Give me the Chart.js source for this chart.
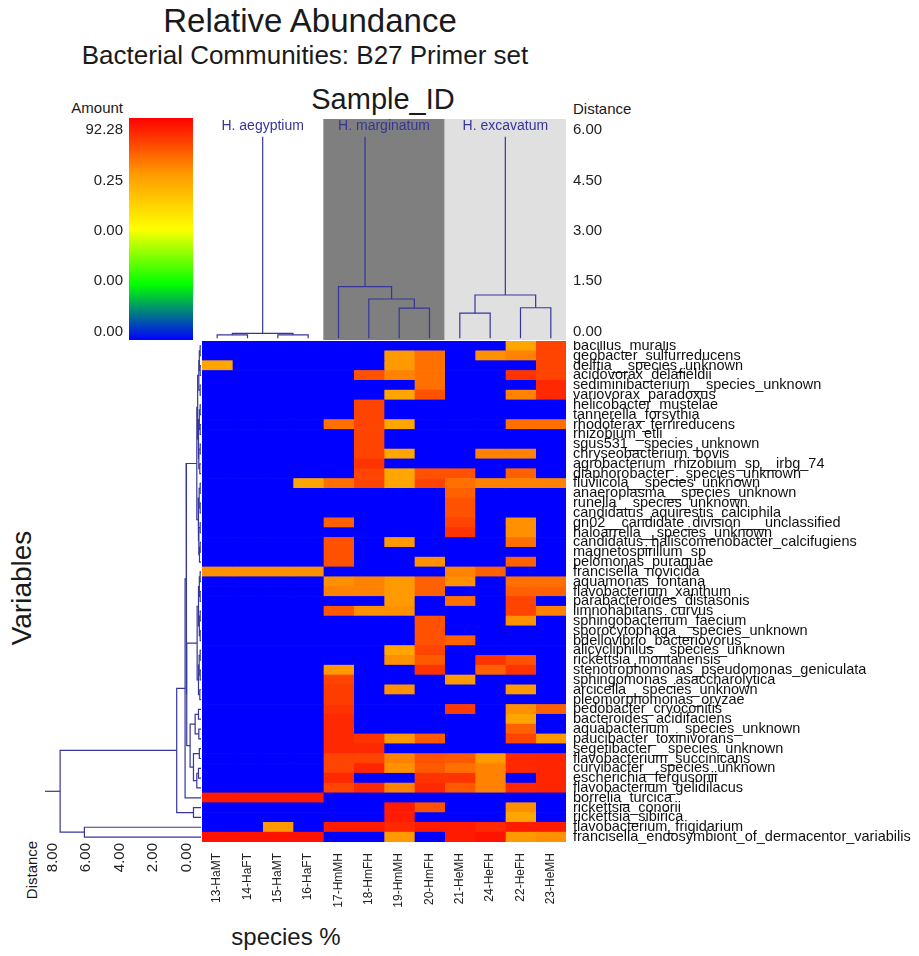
<!DOCTYPE html>
<html>
<head>
<meta charset="utf-8">
<title>Relative Abundance</title>
<script src="https://cdn.jsdelivr.net/npm/chart.js@4.4.1/dist/chart.umd.min.js"></script>
<style>
  body { margin: 0; background: #fff; }
  #page { position: relative; width: 919px; height: 956px; overflow: hidden; font-family: 'Liberation Sans', Arial, sans-serif; color: #1a1a1a; }
  canvas { position: absolute; }
  .txt { position: absolute; white-space: nowrap; line-height: 1; }
</style>
</head>
<body>
<div id="page">
  <div class="txt" style="left:310px; top:4px; font-size:33px; transform:translateX(-50%)">Relative Abundance</div>
  <div class="txt" style="left:305px; top:42px; font-size:26px; transform:translateX(-50%)">Bacterial Communities: B27 Primer set</div>
  <div class="txt" style="left:383px; top:85px; font-size:29px; transform:translateX(-50%)">Sample_ID</div>
  <div class="txt" style="left:123px; top:100px; font-size:15px; transform:translateX(-100%)">Amount</div>
  <div class="txt" style="left:573px; top:101px; font-size:15px">Distance</div>
  <div class="txt" style="left:22px; top:588px; font-size:28px; transform:translate(-50%,-50%) rotate(-90deg)">Variables</div>
  <div class="txt" style="left:31px; top:870px; font-size:15px; transform:translate(-50%,-50%) rotate(-90deg)">Distance</div>
  <div class="txt" style="left:286px; top:925px; font-size:24px; transform:translateX(-50%)">species %</div>

  <canvas id="legend" width="133" height="222" style="left:60px; top:118px"></canvas>
  <canvas id="colTree" width="420" height="221" style="left:202px; top:119px"></canvas>
  <canvas id="rowTree" width="161" height="561" style="left:40px; top:341px"></canvas>
  <canvas id="heat" width="717" height="615" style="left:202px; top:341px"></canvas>
</div>
<script>
// samples (columns), in dendrogram order
const samples = ['13-HaMT', '14-HaFT', '15-HaMT', '16-HaFT', '17-HmMH', '18-HmFH',
                 '19-HmMH', '20-HmFH', '21-HeMH', '24-HeFH', '22-HeFH', '23-HeMH'];

// species (rows), top to bottom
const species = [
  'bacillus_muralis', 'geobacter_sulfurreducens', 'delftia__species_unknown', 'acidovorax_delafieldii',
  'sediminibacterium__species_unknown', 'variovorax_paradoxus', 'helicobacter_mustelae', 'tannerella_forsythia',
  'rhodoferax_ferrireducens', 'rhizobium_etli', 'sgus531__species_unknown', 'chryseobacterium_bovis',
  'agrobacterium_rhizobium_sp__irbg_74', 'diaphorobacter__species_unknown', 'fluviicola__species_unknown',
  'anaeroplasma__species_unknown', 'runella__species_unknown', 'candidatus_aquirestis_calciphila',
  'gn02__candidate_division___unclassified', 'haloarrella__species_unknown',
  'candidatus_haliscomenobacter_calcifugiens', 'magnetospirillum_sp', 'pelomonas_puraquae',
  'francisella_novicida', 'aquamonas_fontana', 'flavobacterium_xanthum', 'parabacteroides_distasonis',
  'limnohabitans_curvus', 'sphingobacterium_faecium', 'sporocytophaga__species_unknown',
  'bdellovibrio_bacteriovorus', 'alicycliphilus__species_unknown', 'rickettsia_montanensis',
  'stenotrophomonas_pseudomonas_geniculata', 'sphingomonas_asaccharolytica', 'arcicella__species_unknown',
  'pleomorphomonas_oryzae', 'pedobacter_cryoconitis', 'bacteroides_acidifaciens',
  'aquabacterium__species_unknown', 'paucibacter_toxinivorans', 'segetibacter__species_unknown',
  'flavobacterium_succinicans', 'curvibacter__species_unknown', 'escherichia_fergusonii',
  'flavobacterium_gelidilacus', 'borrelia_turcica', 'rickettsia_conorii', 'rickettsia_sibirica',
  'flavobacterium_frigidarium', 'francisella_endosymbiont_of_dermacentor_variabilis'
];

// abundance (%) per sample, one value per species row (estimated from the colours)
const c13HaMT = [0,0,0.22,0,0,0,0,0,0,0, 0,0,0,0,0,0,0,0,0,0, 0,0,0,0.35,0,0,0,0,0,0, 0,0,0,0,0,0,0,0,0,0, 0,0,0,0,0,0,33,0,0,0, 45];
const c14HaFT = [0,0,0,0,0,0,0,0,0,0, 0,0,0,0,0,0,0,0,0,0, 0,0,0,0.35,0,0,0,0,0,0, 0,0,0,0,0,0,0,0,0,0, 0,0,0,0,0,0,33,0,0,0, 45];
const c15HaMT = [0,0,0,0,0,0,0,0,0,0, 0,0,0,0,0,0,0,0,0,0, 0,0,0,0.35,0,0,0,0,0,0, 0,0,0,0,0,0,0,0,0,0, 0,0,0,0,0,0,33,0,0,0.25, 45];
const c16HaFT = [0,0,0,0,0,0,0,0,0,0, 0,0,0,0,0.22,0,0,0,0,0, 0,0,0,0.35,0,0,0,0,0,0, 0,0,0,0,0,0,0,0,0,0, 0,0,0,0,0,0,33,0,0,0, 45];
const c17HmMH = [0,0,0,0,0,0,0,0,1.2,0, 0,0,0,0,1.2,0,0,0,2.2,0, 4,4,4,0,0.35,0.6,0,3,0,0, 0,0,0,0.25,7,9,9,13,20,20, 20,20,7,7,20,7,0,0,0,33, 0];
const c18HmFH = [0,0,0,4,0,0,7,7,7,7, 7,7,13,7,7,0,0,0,0,0, 0,0,0,0,0.6,0.6,0,0.35,0,0, 0,0,0,0,0,0,0,0,0,0, 13,20,7,22,0,20,0,0,0,33, 0];
const c19HmMH = [0,0.25,0.25,0.6,0,0.22,0,0,0.22,0, 0,0.22,0,0.22,0.22,0,0,0,0,0, 0.25,0,0,0,0.25,0.25,0.25,0.35,0,0, 0,0.22,0.35,0,0,0.35,0,0,0,0, 0.25,0,0.6,0.35,0,0.6,0,33,33,20, 0.25];
const c20HmFH = [0,1.2,1.2,1.2,1.2,4,0,0,0,0, 0,0,0,4,7,0,0,0,0,0, 0,0,0.35,0,2.2,2.2,0,0,4,4, 4,7,3,13,0,0,0,0,0,0, 3,0,4,3,13,20,0,4,0,33, 0];
const c21HeMH = [0,0,0,0,0,0,0,0,0,0, 0,0,0,4,1.2,2.2,4,4,7,13, 0,0,0,0.6,0.35,0,1.2,0,0,0, 2.2,0,0,0,0.25,0,0,9,0,0, 0,0,3,1.2,13,3,0,0,0,33, 33];
const c24HeFH = [0,0.35,0,0,0,0,0,0,0,0, 0,0.6,0,0,0.6,0,0,0,0,0, 0,0,0,2.2,0,0,0,0,0,0, 0,0,13,2.2,0,0,0,0,0,0, 0,0,0.25,0.6,0.6,0.6,0,0,0,20, 45];
const c22HeFH = [0.22,0.6,0,13,0,0.6,0,0,1.2,0, 0,0.6,0,2.2,0.6,0,0,0,0.35,0.35, 1.2,0,2.2,0,1.2,2.2,7,7,0.35,0, 0,0,4,13,0,0.25,0,0.35,0.22,2.2, 7,0,20,20,0,20,0,0.35,0.22,33, 0.25];
const c23HeMH = [7,7,7,7,20,20,0,0,1.2,0, 0,0,0,0,0.6,0,0,0,0,0, 0,0,0,0,1.2,2.2,0,0.6,0,0, 0,0,0,0,0,0,0,2.2,0,0, 0.25,0,22,22,22,22,0,0,0,33, 0.35];
const abundance = [c13HaMT, c14HaFT, c15HaMT, c16HaFT, c17HmMH, c18HmFH, c19HmMH, c20HmFH, c21HeMH, c24HeFH, c22HeFH, c23HeMH];

// colour key
const legendLabels = ['0.00', '0.00', '0.00', '0.25', '92.28'];
const amountMid = 0.25, amountMax = 92.28;

// column clustering: [childA, childB, distance]; leaves 0..11, new nodes from 12
const colLinks = [[0, 1, -0.1], [2, 3, -0.1], [12, 13, -0.05],
                  [6, 7, 0.70], [5, 15, 0.97], [4, 16, 1.34],
                  [8, 9, 0.55], [10, 11, 0.71], [18, 19, 1.09]];
const colGroupRoots = [14, 17, 20];
const colRootTop = 5.8;
const groupNames = ['H. aegyptium', 'H. marginatum', 'H. excavatum'];
const groupCols = [[0, 3], [4, 7], [8, 11]];
const colDistTicks = [0, 1.5, 3, 4.5, 6];

// row clustering: leaves 0..50, new nodes from 51
const rowLinks = [
  [0, 1, -0.8], [2, 3, -0.8], [51, 52, -0.75], [4, 5, -0.8], [53, 54, -0.72],
  [6, 7, -0.8], [8, 9, -0.8], [56, 57, -0.75], [10, 11, -0.8], [12, 13, -0.78],
  [59, 60, -0.72], [58, 61, -0.68], [55, 62, -0.65], [14, 15, -0.8], [16, 17, -0.8],
  [64, 65, -0.74], [18, 19, -0.8], [20, 21, -0.8], [68, 22, -0.76], [67, 69, -0.72],
  [66, 70, -0.68], [63, 71, -0.6], [23, 24, -0.8], [25, 26, -0.8], [73, 74, -0.75],
  [27, 28, -0.8], [29, 30, -0.8], [76, 77, -0.75], [75, 78, -0.7], [31, 32, -0.8],
  [33, 34, -0.8], [80, 81, -0.74], [35, 36, -0.78], [82, 83, -0.7], [79, 84, -0.62],
  [37, 38, -0.7], [39, 40, -0.72], [86, 87, -0.5], [41, 42, -0.75], [43, 44, -0.7],
  [90, 45, -0.6], [89, 91, -0.4], [88, 92, -0.2], [85, 93, 0.0], [72, 94, 0.04],
  [95, 46, 0.1], [47, 48, -0.4], [96, 97, 0.6], [49, 50, 6.11], [98, 99, 7.56]
];
const rowRoot = 100;
const rowRootEnd = 8.46;
const rowDistTicks = [0, 2, 4, 6, 8];

const FONT = "'Liberation Sans', Arial, sans-serif";
const NAVY = '#36369a';
const stops = [[0, [0, 0, 255]], [0.25, [0, 255, 0]], [0.5, [255, 255, 0]], [0.75, [255, 153, 0]], [1, [255, 0, 0]]];

function amountToT(a) {
  if (a <= 0) return 0;
  if (a < amountMid) return 0.5 + a;
  return 0.75 + 0.25 * Math.log(a / amountMid) / Math.log(amountMax / amountMid);
}
function colorAt(t) {
  for (let i = 1; i < stops.length; i++) {
    if (t <= stops[i][0]) {
      const [t0, c0] = stops[i - 1], [t1, c1] = stops[i];
      const f = (t - t0) / (t1 - t0);
      const c = c0.map((v, k) => Math.round(v + (c1[k] - v) * f));
      return `rgb(${c[0]},${c[1]},${c[2]})`;
    }
  }
  return 'rgb(255,0,0)';
}
const amountColor = a => colorAt(amountToT(a));

function treeSegments(n, links, leafLevel) {
  const pos = [], lev = [];
  for (let i = 0; i < n; i++) { pos.push(i + 0.5); lev.push(leafLevel); }
  const segs = links.map(([a, b, h]) => {
    const s = [[pos[a], lev[a]], [pos[a], h], [pos[b], h], [pos[b], lev[b]]];
    pos.push((pos[a] + pos[b]) / 2);
    lev.push(h);
    return s;
  });
  return { segs, pos, lev };
}
function lineSets(segs, vertical) {
  return segs.map(s => ({
    data: s.map(([p, l]) => vertical ? { x: p, y: l } : { x: l, y: p }),
    showLine: true, borderColor: NAVY, borderWidth: 1.2, pointRadius: 0, clip: false
  }));
}
const noTicks = { display: false, drawTicks: false };
const common = { responsive: false, animation: false, devicePixelRatio: 1,
                 plugins: { legend: { display: false }, tooltip: { enabled: false } } };

// heatmap
new Chart(document.getElementById('heat'), {
  type: 'bar',
  data: {
    labels: species,
    datasets: samples.map((name, j) => ({
      label: name,
      data: species.map(() => [j, j + 1]),
      backgroundColor: abundance[j].map(amountColor),
      borderWidth: 0, grouped: false, barPercentage: 1, categoryPercentage: 1
    }))
  },
  options: {
    ...common,
    indexAxis: 'y',
    scales: {
      x: { type: 'linear', min: 0, max: samples.length, display: false },
      cols: {
        type: 'category', labels: samples, position: 'bottom', offset: true,
        grid: noTicks, border: { display: false },
        ticks: { minRotation: 90, maxRotation: 90, padding: 11, autoSkip: false, color: '#222', font: { family: FONT, size: 12 } },
        afterFit: s => { s.height = 114; s.paddingLeft = 0; s.paddingRight = 0; }
      },
      y: {
        position: 'right', grid: noTicks, border: { display: false },
        ticks: { autoSkip: false, padding: 7, color: '#111', font: { family: FONT, size: 14.5 } },
        afterFit: s => { s.width = 353; s.paddingTop = 0; s.paddingBottom = 0; }
      }
    }
  }
});

// sample dendrogram
const colTree = treeSegments(samples.length, colLinks, -0.2);
colGroupRoots.forEach(id => colTree.segs.push([[colTree.pos[id], colTree.lev[id]], [colTree.pos[id], colRootTop]]));
const groupShade = ['rgba(0,0,0,0)', '#7f7f7f', '#e0e0e0'];
new Chart(document.getElementById('colTree'), {
  type: 'scatter',
  data: { datasets: lineSets(colTree.segs, true) },
  options: {
    ...common,
    scales: {
      x: { type: 'linear', min: 0, max: samples.length, display: false },
      y: {
        type: 'linear', position: 'right', min: -0.25, max: 6.33,
        afterBuildTicks: s => { s.ticks = colDistTicks.map(v => ({ value: v })); },
        grid: noTicks, border: { display: false },
        ticks: { padding: 7, color: '#222', font: { family: FONT, size: 15 }, callback: v => v.toFixed(2) },
        afterFit: s => { s.width = 56; s.paddingTop = 0; s.paddingBottom = 0; }
      }
    }
  },
  plugins: [{
    id: 'groups',
    beforeDatasetsDraw(chart) {
      const { ctx, chartArea: a, scales: { x } } = chart;
      ctx.save();
      groupCols.forEach(([from, to], g) => {
        const l = x.getPixelForValue(from), r = x.getPixelForValue(to + 1);
        ctx.fillStyle = groupShade[g];
        ctx.fillRect(l, a.top, r - l, a.bottom - a.top);
        ctx.fillStyle = NAVY;
        ctx.font = `14px ${FONT}`;
        ctx.textAlign = 'center';
        ctx.textBaseline = 'alphabetic';
        ctx.fillText(groupNames[g], (l + r) / 2, a.top + 11);
      });
      ctx.restore();
    }
  }]
});

// species dendrogram
const rowTree = treeSegments(species.length, rowLinks, -0.85);
rowTree.segs.push([[rowTree.pos[rowRoot], rowTree.lev[rowRoot]], [rowTree.pos[rowRoot], rowRootEnd]]);
new Chart(document.getElementById('rowTree'), {
  type: 'scatter',
  data: { datasets: lineSets(rowTree.segs, false) },
  options: {
    ...common,
    scales: {
      x: {
        type: 'linear', position: 'bottom', reverse: true, min: -0.85, max: 8.76,
        afterBuildTicks: s => { s.ticks = rowDistTicks.map(v => ({ value: v })); },
        grid: noTicks, border: { display: false },
        ticks: { minRotation: 90, maxRotation: 90, padding: 1, color: '#222', font: { family: FONT, size: 15 }, callback: v => v.toFixed(2) },
        afterFit: s => { s.height = 60; s.paddingLeft = 0; s.paddingRight = 0; }
      },
      y: { type: 'linear', min: 0, max: species.length, reverse: true, display: false }
    }
  }
});

// colour key
new Chart(document.getElementById('legend'), {
  type: 'scatter',
  data: { datasets: [] },
  options: {
    ...common,
    scales: {
      x: { type: 'linear', min: 0, max: 1, display: false },
      y: {
        type: 'linear', position: 'left', min: -0.165, max: 4.24,
        afterBuildTicks: s => { s.ticks = legendLabels.map((_, i) => ({ value: i })); },
        grid: noTicks, border: { display: false },
        ticks: { padding: 6, color: '#222', font: { family: FONT, size: 15 }, callback: (v, i) => legendLabels[i] },
        afterFit: s => { s.width = 69; s.paddingTop = 0; s.paddingBottom = 0; }
      }
    }
  },
  plugins: [{
    id: 'gradient',
    beforeDatasetsDraw(chart) {
      const { ctx, chartArea: a } = chart;
      const g = ctx.createLinearGradient(0, a.bottom, 0, a.top);
      stops.forEach(([t, c]) => g.addColorStop(t, `rgb(${c.join(',')})`));
      ctx.save();
      ctx.fillStyle = g;
      ctx.fillRect(a.left, a.top, a.right - a.left, a.bottom - a.top);
      ctx.restore();
    }
  }]
});
</script>
</body>
</html>
